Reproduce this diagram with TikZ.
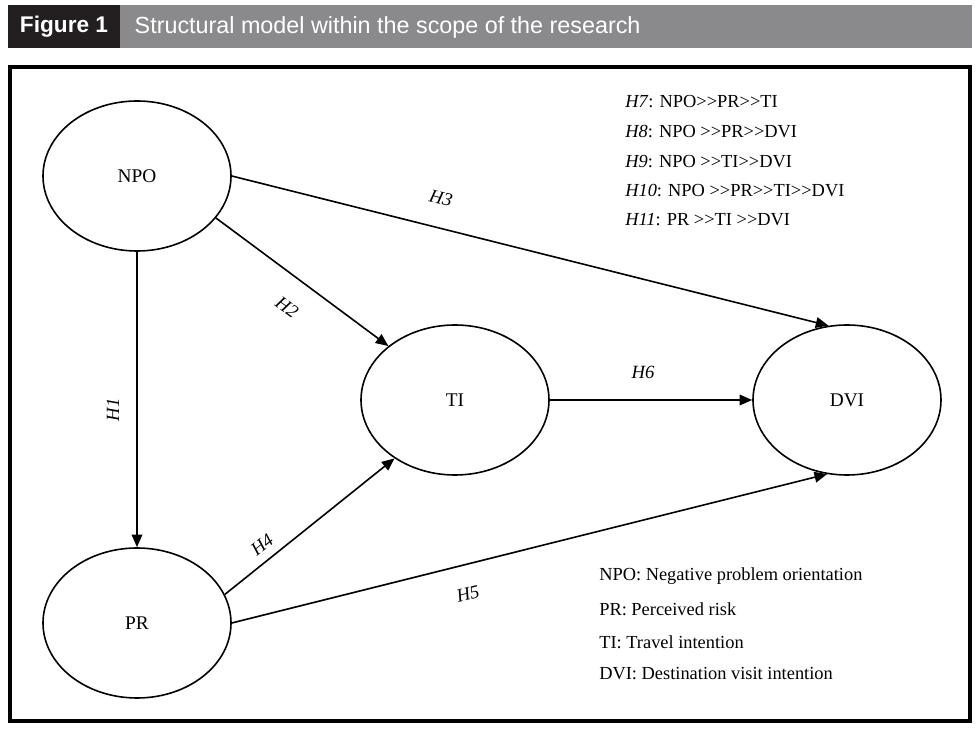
\documentclass[tikz,border=0pt]{standalone}
\usepackage{fontspec}
\setmainfont{Liberation Serif}
\newfontfamily\headfont{Liberation Sans}
\usetikzlibrary{shapes.geometric,arrows.meta}
\definecolor{headgray}{RGB}{138,138,141}
\definecolor{headdark}{RGB}{35,31,32}
\newcommand{\via}{>\kern0pt>}

\begin{document}
\begin{tikzpicture}[x=0.75pt,y=-0.75pt,
  construct/.style={draw, line width=1.2pt, ellipse, minimum width=141pt, minimum height=112.5pt, inner sep=0pt, font=\fontsize{14.5}{17}\selectfont},
  hpath/.style={line width=1.2pt, -{Triangle[length=9.5pt,width=8pt]}},
  hyp/.style={font=\fontsize{14}{17}\selectfont\itshape},
  note/.style={anchor=west, inner sep=0pt, font=\fontsize{13.8}{16}\selectfont}]
\useasboundingbox (0,0) rectangle (979,730);

\fill[headgray] (8,5) rectangle (972,48);
\fill[headdark] (8,5) rectangle (120,48);
\node[text=white, font=\headfont\bfseries\fontsize{17}{20}\selectfont] (fig) at (64,27) {Figure 1};
\node[anchor=west, text=white, font=\headfont\fontsize{17.5}{20}\selectfont] (title) at (130,27) {Structural model within the scope of the research};

\draw[line width=3pt] (10,67) rectangle (970,721);

\node[construct] (npo) at (137,176) {NPO};
\node[construct] (pr) at (137,623) {PR};
\node[construct] (ti) at (455,400) {TI};
\node[construct] (dvi) at (847,400) {DVI};

\draw[hpath] (npo.south) -- (pr.north);
\draw[hpath] (npo.-28) -- (ti.141);
\draw[hpath] (npo.east) -- (dvi.104);
\draw[hpath] (pr.18) -- (ti.224);
\draw[hpath] (pr.east) -- (dvi.255);
\draw[hpath] (ti.east) -- (dvi.west);

\node[hyp, rotate=90] (h1) at (113,410) {H1};
\node[hyp, rotate=-36] (h2) at (287,307) {H2};
\node[hyp, rotate=-14] (h3) at (441,198) {H3};
\node[hyp, rotate=38] (h4) at (262,545) {H4};
\node[hyp, rotate=14] (h5) at (468,594) {H5};
\node[hyp] (h6) at (643,372) {H6};

\node[note] (n7) at (625,102) {\textit{H7}: NPO\via PR\via TI};
\node[note] (n8) at (625,132) {\textit{H8}: NPO \via PR\via DVI};
\node[note] (n9) at (625,162) {\textit{H9}: NPO \via TI\via DVI};
\node[note] (n10) at (625,191) {\textit{H10}: NPO \via PR\via TI\via DVI};
\node[note] (n11) at (625,220) {\textit{H11}: PR \via TI \via DVI};

\node[note] (lnpo) at (599,576) {NPO: Negative problem orientation};
\node[note] (lpr) at (599,609) {PR: Perceived risk};
\node[note] (lti) at (599,642) {TI: Travel intention};
\node[note] (ldvi) at (599,674) {DVI: Destination visit intention};
\end{tikzpicture}
\end{document}
